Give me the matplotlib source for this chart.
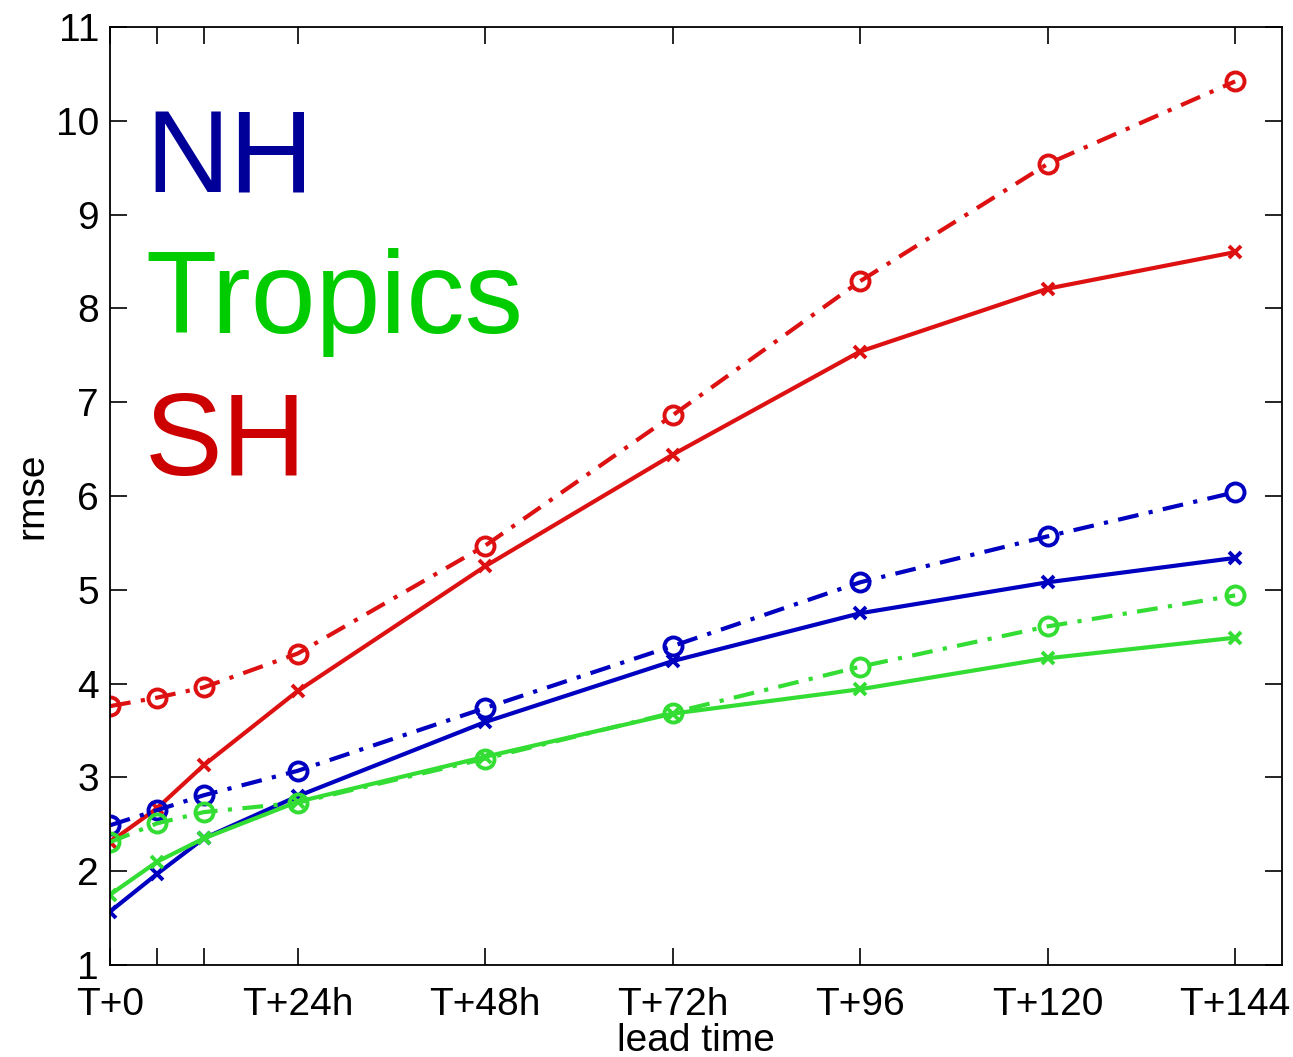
import numpy as np
import matplotlib.pyplot as plt

plt.rcParams['font.family'] = ['Liberation Sans', 'DejaVu Sans']

# forecast lead times (hours)
lead = [0, 6, 12, 24, 48, 72, 96, 120, 144]
tick_pos = [0, 6, 12, 24, 48, 72, 96, 120, 144]
tick_lab = ['T+0', '', '', 'T+24h', 'T+48h', 'T+72h', 'T+96', 'T+120', 'T+144']

# rmse, two experiments per region
nh_a = [1.57, 1.97, 2.35, 2.80, 3.59, 4.24, 4.75, 5.08, 5.34]
nh_b = [2.49, 2.65, 2.81, 3.07, 3.74, 4.40, 5.08, 5.57, 6.04]
tr_a = [1.75, 2.10, 2.35, 2.74, 3.22, 3.68, 3.94, 4.27, 4.49]
tr_b = [2.31, 2.51, 2.63, 2.73, 3.20, 3.69, 4.18, 4.61, 4.94]
sh_a = [2.31, 2.67, 3.13, 3.92, 5.25, 6.44, 7.54, 8.21, 8.60]
sh_b = [3.76, 3.85, 3.96, 4.32, 5.47, 6.86, 8.29, 9.54, 10.42]

c_nh = '#0000c0'
c_tr = '#33dd33'
c_sh = '#dd1111'
dashdot = (0, (5, 2.5, 1, 2.5))

fig = plt.figure(figsize=(12.93, 10.57), dpi=100)
ax = fig.add_axes([0.0851, 0.087, 0.9064, 0.8875])

for a, b, c in [(sh_a, sh_b, c_sh), (nh_a, nh_b, c_nh), (tr_a, tr_b, c_tr)]:
    ax.plot(lead, b, color=c, ls=dashdot, lw=3, marker='o', ms=13,
            mfc='none', mew=2.8)
    ax.plot(lead, a, color=c, ls='-', lw=3, marker='x', ms=9, mew=2.8)

ax.set_xlim(0, 150)
ax.set_ylim(1, 11)
ax.set_yticks(range(1, 12))
ax.set_xticks(tick_pos)
ax.set_xticklabels(tick_lab)
ax.tick_params(direction='in', length=12, width=1.2, top=True, right=True,
               labelsize=28)
ax.tick_params(axis='x', pad=16)
ax.tick_params(axis='y', pad=8)
for s in ax.spines.values():
    s.set_linewidth(1.3)

ax.set_xlabel('lead time', fontsize=28, labelpad=0)
ax.set_ylabel('rmse', fontsize=28, labelpad=4)

ax.text(0.03, 0.824, 'NH', color='#000099', fontsize=84, transform=ax.transAxes)
ax.text(0.03, 0.674, 'Tropics', color='#00cc00', fontsize=84, transform=ax.transAxes)
ax.text(0.03, 0.522, 'SH', color='#cc0000', fontsize=84, transform=ax.transAxes)

fig.savefig('out.png', dpi=100)
